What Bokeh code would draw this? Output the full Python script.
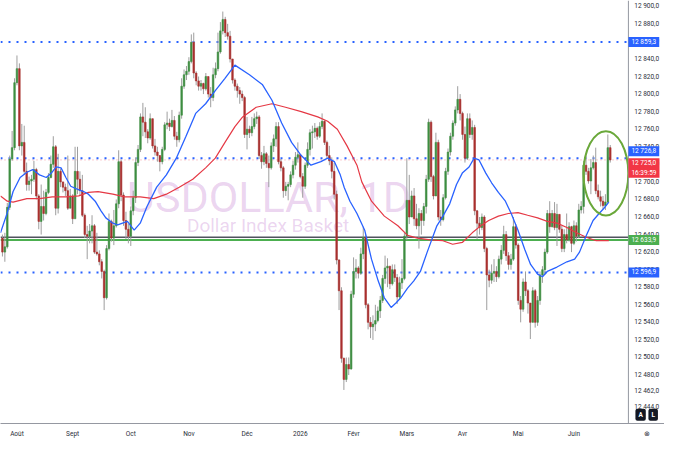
from bokeh.plotting import figure
from bokeh.models import ColumnDataSource, Range1d, FixedTicker, Span, Label
from bokeh.core.properties import value
from bokeh.embed import file_html
from bokeh.resources import INLINE

# daily candles, USDOLLAR (open = previous close)
first_open = 12636
closes = [12620, 12626, 12671, 12726, 12739, 12813, 12829, 12741, 12745, 12712,
          12697, 12701, 12703, 12714, 12684, 12655, 12672, 12664, 12688, 12705,
          12720, 12740, 12670, 12712, 12700, 12694, 12690, 12670, 12684, 12658,
          12712, 12703, 12690, 12662, 12640, 12638, 12644, 12650, 12620, 12618,
          12609, 12598, 12568, 12624, 12655, 12636, 12650, 12675, 12723, 12685,
          12656, 12646, 12638, 12667, 12682, 12722, 12737, 12774, 12768, 12757,
          12750, 12772, 12741, 12734, 12730, 12723, 12737, 12765, 12767, 12763,
          12770, 12752, 12748, 12776, 12809, 12822, 12826, 12837, 12859, 12824,
          12815, 12809, 12812, 12806, 12820, 12800, 12796, 12822, 12829, 12848,
          12872, 12885, 12870, 12866, 12840, 12816, 12809, 12804, 12800, 12796,
          12754, 12760, 12756, 12763, 12772, 12774, 12730, 12723, 12732, 12721,
          12716, 12741, 12749, 12763, 12723, 12716, 12690, 12695, 12697, 12708,
          12719, 12728, 12731, 12706, 12695, 12719, 12737, 12756, 12757, 12761,
          12752, 12763, 12769, 12745, 12730, 12724, 12712, 12686, 12611, 12576,
          12499, 12475, 12492, 12487, 12572, 12598, 12602, 12596, 12618, 12637,
          12560, 12540, 12535, 12538, 12542, 12553, 12565, 12590, 12602, 12604,
          12584, 12600, 12591, 12569, 12585, 12590, 12638, 12679, 12660, 12684,
          12658, 12650, 12664, 12656, 12672, 12703, 12768, 12706, 12684, 12745,
          12660, 12657, 12682, 12712, 12734, 12752, 12767, 12782, 12794, 12778,
          12754, 12727, 12772, 12754, 12762, 12667, 12653, 12648, 12660, 12624,
          12594, 12588, 12596, 12598, 12592, 12612, 12622, 12640, 12616, 12606,
          12612, 12649, 12628, 12565, 12555, 12586, 12576, 12562, 12540, 12576,
          12540, 12565, 12594, 12600, 12620, 12664, 12649, 12664, 12648, 12663,
          12646, 12624, 12640, 12634, 12649, 12630, 12650, 12638, 12668, 12672,
          12719, 12712, 12701, 12716, 12722, 12690, 12683, 12678, 12673, 12677,
          12739, 12725]
highs = [12640, 12642, 12676, 12730, 12758, 12818, 12844, 12835, 12766, 12764,
         12722, 12706, 12708, 12724, 12716, 12686, 12697, 12690, 12692, 12710,
         12730, 12752, 12742, 12732, 12715, 12700, 12698, 12730, 12692, 12686,
         12740, 12740, 12712, 12708, 12664, 12650, 12652, 12662, 12652, 12642,
         12622, 12612, 12600, 12628, 12664, 12657, 12668, 12680, 12736, 12725,
         12688, 12666, 12652, 12672, 12690, 12728, 12742, 12778, 12790, 12785,
         12760, 12778, 12772, 12749, 12740, 12730, 12740, 12768, 12780, 12772,
         12782, 12775, 12757, 12780, 12818, 12828, 12832, 12842, 12868, 12870,
         12826, 12820, 12816, 12813, 12824, 12818, 12808, 12830, 12836, 12870,
         12882, 12894, 12888, 12880, 12872, 12840, 12818, 12812, 12808, 12804,
         12798, 12774, 12764, 12774, 12778, 12780, 12776, 12734, 12741, 12734,
         12730, 12745, 12754, 12768, 12768, 12726, 12718, 12700, 12700, 12712,
         12724, 12734, 12745, 12731, 12710, 12722, 12745, 12760, 12764, 12767,
         12763, 12768, 12778, 12770, 12747, 12741, 12728, 12722, 12690, 12612,
         12580, 12500, 12500, 12500, 12576, 12614, 12612, 12604, 12625, 12649,
         12640, 12562, 12546, 12548, 12560, 12558, 12570, 12594, 12616, 12613,
         12600, 12606, 12606, 12595, 12592, 12612, 12642, 12727, 12708, 12690,
         12693, 12675, 12670, 12668, 12676, 12708, 12772, 12770, 12708, 12756,
         12748, 12668, 12686, 12716, 12738, 12756, 12770, 12786, 12809, 12800,
         12780, 12763, 12778, 12778, 12770, 12765, 12668, 12660, 12664, 12662,
         12626, 12600, 12606, 12612, 12604, 12616, 12628, 12650, 12644, 12620,
         12618, 12660, 12652, 12630, 12570, 12590, 12598, 12578, 12556, 12580,
         12578, 12570, 12598, 12604, 12624, 12668, 12678, 12668, 12677, 12675,
         12660, 12650, 12646, 12664, 12654, 12650, 12656, 12654, 12675, 12678,
         12724, 12730, 12716, 12726, 12730, 12739, 12697, 12690, 12684, 12686,
         12754, 12742]
lows = [12615, 12609, 12624, 12668, 12724, 12736, 12810, 12736, 12730, 12708,
        12690, 12690, 12686, 12700, 12680, 12646, 12640, 12656, 12662, 12686,
        12704, 12716, 12662, 12664, 12694, 12688, 12684, 12668, 12676, 12652,
        12664, 12686, 12684, 12660, 12636, 12612, 12630, 12630, 12618, 12616,
        12605, 12590, 12554, 12566, 12622, 12632, 12628, 12648, 12670, 12678,
        12650, 12635, 12630, 12627, 12662, 12676, 12718, 12734, 12752, 12750,
        12744, 12748, 12738, 12730, 12723, 12712, 12720, 12735, 12760, 12758,
        12762, 12748, 12740, 12745, 12772, 12806, 12816, 12822, 12835, 12818,
        12810, 12804, 12804, 12800, 12804, 12796, 12785, 12792, 12818, 12826,
        12846, 12868, 12865, 12862, 12836, 12812, 12804, 12796, 12789, 12792,
        12750, 12737, 12750, 12752, 12760, 12766, 12726, 12715, 12719, 12716,
        12694, 12714, 12734, 12740, 12720, 12712, 12682, 12684, 12679, 12694,
        12704, 12714, 12722, 12704, 12682, 12692, 12716, 12730, 12738, 12750,
        12748, 12750, 12760, 12742, 12726, 12719, 12704, 12680, 12606, 12554,
        12494, 12463, 12472, 12480, 12486, 12568, 12590, 12590, 12594, 12612,
        12556, 12532, 12522, 12520, 12530, 12540, 12545, 12562, 12584, 12580,
        12578, 12582, 12586, 12561, 12566, 12578, 12588, 12634, 12652, 12660,
        12650, 12646, 12624, 12640, 12650, 12664, 12700, 12700, 12680, 12684,
        12656, 12650, 12655, 12680, 12708, 12730, 12748, 12764, 12778, 12770,
        12748, 12722, 12725, 12750, 12748, 12662, 12635, 12640, 12645, 12620,
        12554, 12580, 12584, 12586, 12586, 12590, 12606, 12618, 12610, 12600,
        12600, 12610, 12624, 12560, 12540, 12552, 12570, 12550, 12521, 12540,
        12534, 12536, 12560, 12585, 12594, 12618, 12642, 12648, 12645, 12627,
        12642, 12620, 12620, 12630, 12632, 12620, 12628, 12632, 12636, 12664,
        12664, 12708, 12698, 12686, 12714, 12686, 12680, 12672, 12669, 12668,
        12676, 12722]

# moving averages (bar index, value)
ma_fast_bars = [-0.8, 1.9, 4.4, 7.3, 10.1, 12.5, 15.3, 18.1, 20.2, 22.2, 24.2, 26.2,
                28.2, 30.6, 33.5, 35.5, 38.3, 40.7, 42.7, 45.6, 47.6, 51.6, 54.4, 56.9,
                59.7, 63.7, 67.7, 71.8, 75.8, 79.8, 83.9, 87.9, 91.9, 96, 102, 107.3,
                111.3, 115.3, 119.4, 123.4, 127.4, 131.5, 134.3, 137.1, 139.5, 141.1,
                143.5, 146.4, 149.6, 152.4, 155.2, 157.7, 160.5, 162.5, 164.5, 167.3,
                169.8, 172.6, 175.4, 179.4, 181.9, 184.7, 187.5, 189.9, 192.7, 194.8,
                196.8, 199.6, 202, 204.8, 207.7, 210.1, 212.9, 215.7, 218.1, 221, 223,
                225, 229, 233.1, 236.3, 238.3, 241.1, 243.9, 246.4, 248.4, 250.4]
ma_fast_vals = [12642, 12664, 12689, 12705, 12711, 12714, 12708, 12705, 12710, 12717,
                12716, 12705, 12695, 12692, 12689, 12686, 12678, 12667, 12659, 12653,
                12651, 12655, 12645, 12653, 12672, 12694, 12708, 12727, 12752, 12778,
                12789, 12804, 12818, 12833, 12822, 12811, 12793, 12767, 12745, 12730,
                12719, 12723, 12727, 12723, 12708, 12694, 12678, 12664, 12645, 12612,
                12587, 12568, 12557, 12562, 12568, 12579, 12587, 12598, 12620, 12650,
                12661, 12675, 12697, 12710, 12717, 12727, 12725, 12710, 12699, 12688,
                12678, 12664, 12645, 12623, 12606, 12595, 12592, 12598, 12603, 12609,
                12612, 12620, 12639, 12656, 12664, 12670, 12677]
ma_slow_bars = [-0.8, 2, 4.4, 10.1, 15.3, 20.6, 26.2, 31.5, 35.5, 39.5, 45.6, 50.4,
                56.9, 62.5, 67.7, 73, 78.6, 83.9, 87.9, 91.9, 96, 99.2, 104.8, 111.3,
                116.9, 123.4, 130.2, 134.3, 138.3, 142.3, 146.4, 148.4, 152.4, 157.7,
                163.3, 167.3, 171.4, 176.6, 181.9, 185.9, 189.9, 194, 198, 200.8, 204.8,
                208.9, 212.9, 216.9, 221, 225, 229, 233.1, 237.1, 241.1, 245.2, 250.4]
ma_slow_vals = [12684, 12678, 12677, 12681, 12681, 12683, 12683, 12684, 12688, 12689,
                12686, 12683, 12683, 12681, 12686, 12694, 12703, 12716, 12727, 12745,
                12763, 12774, 12785, 12789, 12785, 12780, 12774, 12769, 12760, 12741,
                12719, 12700, 12678, 12661, 12650, 12639, 12636, 12634, 12633, 12629,
                12631, 12642, 12651, 12656, 12661, 12664, 12665, 12662, 12659, 12655,
                12653, 12648, 12642, 12637, 12633, 12633]

month_names = ["Août", "Sept", "Oct", "Nov", "Déc", "2026", "Févr", "Mars", "Avr", "Mai", "Juin"]
month_bars = [6, 29, 53, 77, 101, 123, 145, 167, 190, 213, 236]
price_ticks = [12444, 12462] + list(range(12480, 12901, 20))

blue_levels = [12859.3, 12726.8, 12596.9]
green_level = 12633.9
gray_level = 12637.0
last_price = 12725.0
last_time = "16:39:59"

# x in bar units; the price scale column sits right of scale_x
x_lo, x_hi = -0.8, 273.4
scale_x, label_x, icon_x = 258.5, 260.9, 266.1
y_lo, y_hi = 12424.8, 12906.6

# circled zone (bar index, price)
ell_x, ell_y, ell_w, ell_h = 249.2, 12709.8, 18.5, 96

font = "Roboto"
txt_col = "#2a2e39"


def fr(v):
    return f"{v:,.1f}".replace(",", " ").replace(".", ",")


opens = [first_open] + closes[:-1]
up_col, dn_col = "#3e8e41", "#a9302f"
src = ColumnDataSource(dict(
    x=list(range(len(closes))),
    h=highs, l=lows,
    top=[max(o, c) for o, c in zip(opens, closes)],
    bottom=[min(o, c) for o, c in zip(opens, closes)],
    color=[up_col if c >= o else dn_col for o, c in zip(opens, closes)],
))

p = figure(width=664, height=440, x_range=Range1d(x_lo, x_hi), y_range=Range1d(y_lo, y_hi),
           y_axis_location=None, output_backend="svg", toolbar_location=None,
           min_border=0, background_fill_color="white", border_fill_color="white")
p.outline_line_color = None
p.grid.visible = False

# watermark
p.add_layout(Label(x=110.1, y=12682.8, text="USDOLLAR, 1D", text_font=font,
                   text_font_size="43px", text_color="#9c27b0", text_alpha=0.2,
                   text_align="center", text_baseline="alphabetic", level="underlay"))
p.add_layout(Label(x=109.7, y=12650.8, text="Dollar Index Basket", text_font=font,
                   text_font_size="19px", text_color="#9c27b0", text_alpha=0.2,
                   text_align="center", text_baseline="alphabetic", level="underlay"))

# horizontal levels, stopping at the price scale
p.segment(x0=[x_lo], x1=[scale_x], y0=[last_price], y1=[last_price], line_color="#f23645",
          line_alpha=0.5, line_width=1, line_dash="1 3")
p.segment(x0=[x_lo] * 3, x1=[scale_x] * 3, y0=blue_levels, y1=blue_levels,
          line_color="#2962ff", line_width=2, line_dash="2 6")
p.segment(x0=[x_lo], x1=[scale_x], y0=[gray_level], y1=[gray_level],
          line_color="#50535e", line_width=1.6)
p.segment(x0=[x_lo], x1=[scale_x], y0=[green_level], y1=[green_level],
          line_color="#4caf50", line_width=2)

# candles
p.segment(x0="x", y0="l", x1="x", y1="h", line_color="#9e9e9e", line_width=1, source=src)
p.vbar(x="x", width=0.66, top="top", bottom="bottom", fill_color="color",
       line_color="color", line_width=0.6, source=src)

p.line(ma_slow_bars, ma_slow_vals, line_color="#e53945", line_width=1.2)
p.line(ma_fast_bars, ma_fast_vals, line_color="#2962ff", line_width=1.3)

p.ellipse(x=[ell_x], y=[ell_y], width=[ell_w], height=[ell_h], fill_color=None,
          line_color="#6aa83a", line_width=2)

# price scale
p.add_layout(Span(location=scale_x, dimension="height", line_color="#9598a1", line_width=1))
p.text(x=[label_x] * len(price_ticks), y=price_ticks, text=[fr(t) for t in price_ticks],
       text_font=value(font), text_font_size="6.5px", text_color=txt_col,
       text_align="left", text_baseline="middle")

bx = p.xaxis[0]
bx.ticker = FixedTicker(ticks=month_bars + [icon_x])
labels = dict(zip(month_bars, month_names))
labels[icon_x] = "\u2297"
bx.major_label_overrides = labels
bx.major_label_text_font = font
bx.major_label_text_font_size = "6.5px"
bx.major_label_text_line_height = 1.0
bx.major_label_text_color = txt_col
bx.major_tick_line_color = None
bx.minor_tick_line_color = None
bx.major_tick_out = 0
bx.major_tick_in = 0
bx.axis_line_color = "#9598a1"
bx.major_label_standoff = 6


def tag(price, text, color, dy=0):
    p.add_layout(Label(x=scale_x, y=price, y_offset=dy, text=text, text_font=font,
                       text_font_size="6.5px", text_color="white",
                       background_fill_color=color, text_align="left",
                       text_baseline="middle", padding=dict(x=3, y=1)))


tag(blue_levels[0], fr(blue_levels[0]), "#2962ff")
tag(blue_levels[1], fr(blue_levels[1]), "#2962ff", 7)
tag(last_price, fr(last_price) + "\n" + last_time, "#f23645", -8)
tag(green_level, fr(green_level), "#4caf50")
tag(blue_levels[2], fr(blue_levels[2]), "#2962ff")

for dx, ch in [(7, "A"), (20, "L")]:
    p.add_layout(Label(x=scale_x, y=12434.7, x_offset=dx, text=ch, text_font=font,
                       text_font_size="6.5px", text_font_style="bold", text_color="white",
                       background_fill_color="#131722", text_baseline="middle",
                       padding=dict(x=3, y=2), border_radius=2))

open("out.html", "w", encoding="utf-8").write(file_html(p, INLINE))
